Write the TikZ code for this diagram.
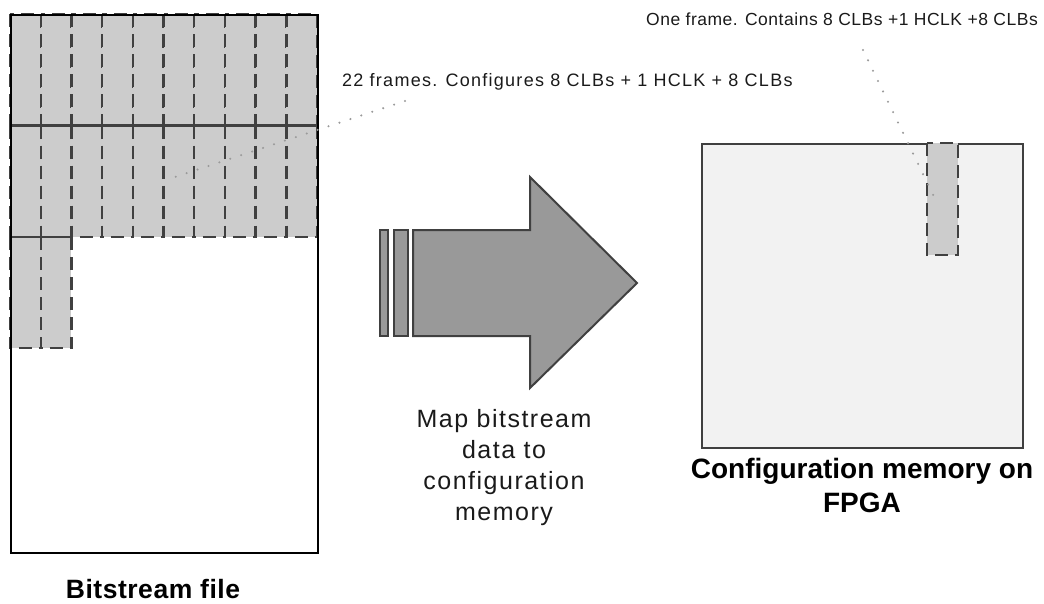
\documentclass[tikz,border=0pt]{standalone}
\usepackage{fontspec}
\setmainfont{Liberation Sans}
\newfontfamily\fA[LetterSpace=7]{Liberation Sans}
\newfontfamily\fB[LetterSpace=3]{Liberation Sans}
\newfontfamily\fC[LetterSpace=6]{Liberation Sans}
\newfontfamily\fD[LetterSpace=2]{Liberation Sans}
\definecolor{framegray}{HTML}{CCCCCC}
\definecolor{dashgray}{HTML}{404040}
\definecolor{arrowgray}{HTML}{999999}
\definecolor{memfill}{HTML}{F2F2F2}
\definecolor{dotgray}{HTML}{9A9A9A}
\definecolor{txt}{HTML}{1A1A1A}
\tikzset{
  framebox/.style={fill=framegray, draw=dashgray, line width=2.4pt, dash pattern=on 13pt off 7pt},
  rowline/.style={draw=dashgray, line width=2.4pt},
  dotline/.style={draw=dotgray, line width=2.3pt, line cap=round, dash pattern=on 0pt off 11.5pt},
  arrowbox/.style={fill=arrowgray, draw=dashgray, line width=2pt, line join=miter},
  smalllabel/.style={inner sep=0pt, text=txt},
}
\begin{document}
\begin{tikzpicture}[x=1pt,y=-1pt]
\useasboundingbox (0,0) rectangle (1044,603);
% ---------- bitstream file ----------
\foreach \i in {0,...,9}{
  \foreach \j in {0,1}{
    \draw[framebox] ({10+30.7*\i},{14+111.5*\j}) rectangle ++(30.7,111.5);
  }
}
\foreach \i in {0,1}{
  \draw[framebox] ({10+30.7*\i},237) rectangle ++(30.7,111);
}
\draw[rowline] (10,125.5) -- (317,125.5);
\draw[rowline] (10,237) -- (71.4,237);
\node[draw=black, line width=2.4pt, minimum width=307pt, minimum height=538pt,
      inner sep=0pt, anchor=north west] (bits) at (10,14) {};
\node[font=\fD\bfseries\fontsize{26.5}{30}\selectfont, inner sep=0pt] (bitslabel) at (153,589) {Bitstream file};
% ---------- arrow ----------
\draw[arrowbox] (380,230) rectangle (388,336);
\draw[arrowbox] (394,230) rectangle (408,336);
\draw[arrowbox] (413,230) -- (530,230) -- (530,177) -- (637,283) -- (530,388) -- (530,336) -- (413,336) -- cycle;
\node[font=\fC\fontsize{25}{31}\selectfont, align=center, inner sep=0pt, text=txt] (maplabel) at (504,468)
  {Map bitstream\\data to\\configuration\\memory};
% ---------- configuration memory ----------
\node[draw=dashgray, fill=memfill, line width=2.4pt, minimum width=321pt, minimum height=304pt,
      inner sep=0pt, anchor=north west] (mem) at (701,143) {};
\draw[framebox] (927,143) rectangle (958,255);
\node[font=\bfseries\fontsize{28}{34}\selectfont, align=center, inner sep=0pt] (memlabel) at (862,485)
  {Configuration memory on\\FPGA};
% ---------- annotations ----------
\node[smalllabel, font=\fA\fontsize{18}{21}\selectfont, anchor=west] (lab1) at (342,82)
  {22 frames. Configures 8 CLBs + 1 HCLK + 8 CLBs};
\node[smalllabel, font=\fB\fontsize{17.5}{21}\selectfont, anchor=east] (lab2) at (1038,19)
  {One frame. Contains 8 CLBs +1 HCLK +8 CLBs};
\coordinate (d1a) at (405,101);
\coordinate (d1b) at (172,178);
\coordinate (d2a) at (863,50);
\coordinate (d2b) at (937,203);
\draw[dotline] (d1a) -- (d1b);
\draw[dotline] (d2a) -- (d2b);
\end{tikzpicture}
\end{document}
